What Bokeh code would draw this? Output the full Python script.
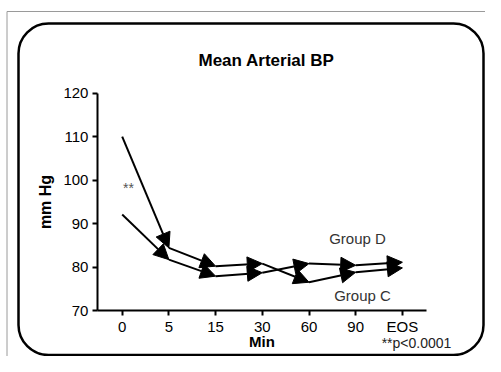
from bokeh.plotting import figure
from bokeh.models import (ColumnDataSource, Arrow, NormalHead, Label, BoxAnnotation,
                          FixedTicker, Range1d)
from bokeh.embed import file_html
from bokeh.resources import INLINE

# ---- data ----
categories = ["0", "5", "15", "30", "60", "90", "EOS"]
series_a = [110.0, 84.4, 80.2, 80.8, 76.5, 78.8, 79.8]   # line starting high
series_b = [92.1, 81.7, 77.9, 78.7, 80.8, 80.4, 81.1]    # line starting low
y_ticks = [70, 80, 90, 100, 110, 120]

FONT = "Liberation Sans"

# pixel geometry (picture coords) of the plotting area
PX0, PXU = 121.7, 46.7          # x of first category, px per category
PY70, PYU = 310.0, 4.346        # y of 70 mmHg, px per unit
W, H = 485, 356

def dx(px):
    return (px - PX0) / PXU

def dy(py):
    return 70 + (PY70 - py) / PYU

x_lo, x_hi = -0.53, 6.52
p = figure(width=W, height=H, output_backend="svg", toolbar_location=None,
           x_range=Range1d(dx(0), dx(W)), y_range=Range1d(dy(H), dy(0)),
           min_border=0, min_border_left=0, min_border_right=0,
           min_border_top=0, min_border_bottom=0)
p.outline_line_color = None
p.xgrid.visible = False
p.ygrid.visible = False
p.background_fill_color = "white"
p.border_fill_color = "white"

xs = list(range(len(categories)))

# axes (fixed inside the frame, bounded to the data area)
p.xaxis.fixed_location = 70
p.yaxis.fixed_location = x_lo
p.xaxis.bounds = (x_lo, x_hi)
p.yaxis.bounds = (70, 120)
p.xaxis.ticker = FixedTicker(ticks=xs)
p.xaxis.major_label_overrides = {i: c for i, c in enumerate(categories)}
p.yaxis.ticker = FixedTicker(ticks=y_ticks)
for ax in (p.xaxis[0], p.yaxis[0]):
    ax.axis_line_width = 2
    ax.major_tick_line_width = 2
    ax.major_tick_out = 5
    ax.major_tick_in = 0
    ax.minor_tick_line_color = None
    ax.major_label_text_font = FONT
    ax.major_label_text_font_size = "15px"
    ax.major_label_text_color = "black"
    ax.axis_label_text_font = FONT
    ax.axis_label_text_font_style = "bold"
    ax.axis_label_text_font_size = "16px"
    ax.axis_label_text_color = "black"
p.xaxis.axis_label = "Min"
p.yaxis.axis_label = "mm Hg"
p.xaxis.axis_label_text_font_size = "15px"
p.xaxis.major_label_standoff = 2
p.yaxis.major_label_standoff = 4
p.xaxis.axis_label_standoff = -5
p.yaxis.axis_label_standoff = 6

# arrows (segments with heads at each point)
for ys in (series_a, series_b):
    src = ColumnDataSource(dict(x0=xs[:-1], y0=ys[:-1], x1=xs[1:], y1=ys[1:]))
    p.add_layout(Arrow(end=NormalHead(size=15, fill_color="black", line_color="black", line_width=1),
                       x_start="x0", y_start="y0", x_end="x1", y_end="y1",
                       line_width=2, line_color="black", source=src))

# decorative frames
p.add_layout(BoxAnnotation(left=dx(18), right=dx(483), top=dy(23), bottom=dy(354.5),
                           fill_color=None, fill_alpha=0, line_color="black", line_alpha=1.0,
                           line_width=2.5, border_radius=30))
p.add_layout(BoxAnnotation(left=dx(6.5), right=dx(700), top=dy(11), bottom=dy(700),
                           fill_color=None, fill_alpha=0, line_color="#9a9a9a", line_alpha=1.0,
                           line_width=1))

# texts
p.add_layout(Label(x=dx(266), y=dy(60), text="Mean Arterial BP", text_font=FONT, text_font_style="bold",
                   text_font_size="17px", text_align="center", text_baseline="middle", text_color="black"))
p.add_layout(Label(x=dx(128), y=dy(187), text="**", text_font=FONT, text_font_size="14px",
                   text_align="center", text_baseline="middle", text_color="#555555"))
p.add_layout(Label(x=dx(357), y=dy(238), text="Group D", text_font=FONT, text_font_size="15px",
                   text_align="center", text_baseline="middle", text_color="#333333"))
p.add_layout(Label(x=dx(362), y=dy(295), text="Group C", text_font=FONT, text_font_size="15px",
                   text_align="center", text_baseline="middle", text_color="#333333"))
p.add_layout(Label(x=dx(416), y=dy(342), text="**p<0.0001", text_font=FONT, text_font_size="14px",
                   text_align="center", text_baseline="middle", text_color="#222222"))

open("out.html", "w").write(file_html(p, INLINE))
